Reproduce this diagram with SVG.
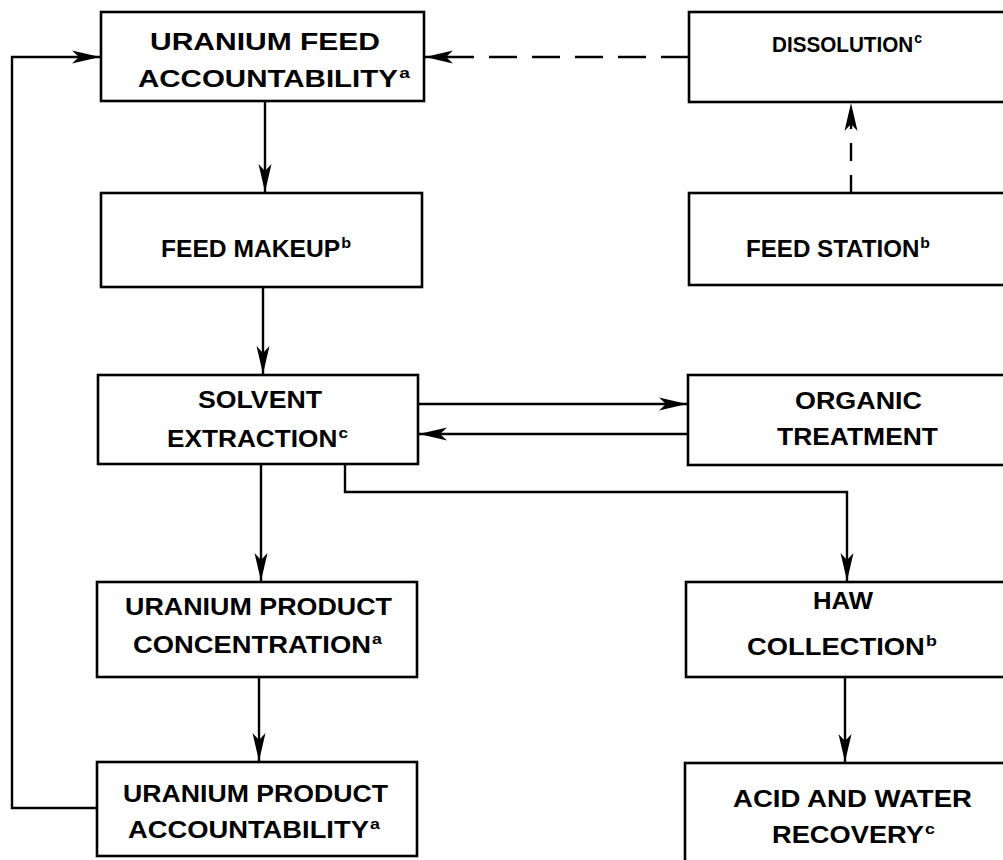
<svg xmlns="http://www.w3.org/2000/svg" width="1003" height="860" viewBox="0 0 1003 860">
<style>
.box{fill:#fff;stroke:#000;stroke-width:2.6}
.lbl{font-family:"Liberation Sans",Arial,sans-serif;font-weight:bold;font-size:23px;fill:#000}
.sup{font-size:15px}
.ln{fill:none;stroke:#000;stroke-width:2.4}
.dash{stroke-dasharray:28 15}
</style>
<defs>
<marker id="ah" markerUnits="userSpaceOnUse" markerWidth="30" markerHeight="14" refX="28" refY="7" orient="auto">
<path d="M0,0.5 L28,7 L0,13.5 L7,7 z" fill="#000"/>
</marker>
</defs>
<rect width="1003" height="860" fill="#fff"/>
<g id="connectors">
<polyline class="ln" points="97,808 12,808 12,57 100,57" marker-end="url(#ah)"/>
<line class="ln dash" x1="689" y1="57" x2="425" y2="57" marker-end="url(#ah)"/>
<line class="ln" x1="265" y1="101" x2="265" y2="192" marker-end="url(#ah)"/>
<line class="ln" x1="263" y1="287" x2="263" y2="374" marker-end="url(#ah)"/>
<line class="ln" x1="261" y1="464" x2="261" y2="581" marker-end="url(#ah)"/>
<line class="ln" x1="259" y1="677" x2="259" y2="761" marker-end="url(#ah)"/>
<line class="ln" x1="418" y1="404" x2="687" y2="404" marker-end="url(#ah)"/>
<line class="ln" x1="688" y1="434" x2="419" y2="434" marker-end="url(#ah)"/>
<polyline class="ln" points="345,464 345,492 847,492 847,581" marker-end="url(#ah)"/>
<line class="ln" x1="845" y1="677" x2="845" y2="762" marker-end="url(#ah)"/>
<line class="ln" x1="851" y1="193" x2="851" y2="103" stroke-dasharray="18 14" marker-end="url(#ah)"/>
</g>
<g id="uranium-feed-accountability">
<rect class="box" x="101" y="12" width="323" height="89"/>
<text class="lbl" x="150" y="50" textLength="230" lengthAdjust="spacingAndGlyphs">URANIUM FEED</text>
<text class="lbl" x="138" y="87" textLength="272" lengthAdjust="spacingAndGlyphs">ACCOUNTABILITY<tspan class="sup" dx="1" dy="-9">a</tspan></text>
</g>
<g id="dissolution">
<rect class="box" x="689" y="12" width="330" height="90"/>
<text class="lbl" x="772" y="52" style="font-size:22px" textLength="150" lengthAdjust="spacingAndGlyphs">DISSOLUTION<tspan class="sup" dx="1" dy="-9">c</tspan></text>
</g>
<g id="feed-makeup">
<rect class="box" x="101" y="193" width="321" height="94"/>
<text class="lbl" x="161" y="257" textLength="190" lengthAdjust="spacingAndGlyphs">FEED MAKEUP<tspan class="sup" dx="1" dy="-9">b</tspan></text>
</g>
<g id="feed-station">
<rect class="box" x="689" y="193" width="330" height="92"/>
<text class="lbl" x="746" y="257" textLength="184" lengthAdjust="spacingAndGlyphs">FEED STATION<tspan class="sup" dx="1" dy="-9">b</tspan></text>
</g>
<g id="solvent-extraction">
<rect class="box" x="98" y="375" width="320" height="89"/>
<text class="lbl" x="198" y="408" textLength="124" lengthAdjust="spacingAndGlyphs">SOLVENT</text>
<text class="lbl" x="167" y="447" textLength="181" lengthAdjust="spacingAndGlyphs">EXTRACTION<tspan class="sup" dx="1" dy="-9">c</tspan></text>
</g>
<g id="organic-treatment">
<rect class="box" x="688" y="375" width="330" height="90"/>
<text class="lbl" x="795" y="409" textLength="127" lengthAdjust="spacingAndGlyphs">ORGANIC</text>
<text class="lbl" x="777" y="445" textLength="161" lengthAdjust="spacingAndGlyphs">TREATMENT</text>
</g>
<g id="uranium-product-concentration">
<rect class="box" x="97" y="582" width="320" height="95"/>
<text class="lbl" x="125" y="615" textLength="267" lengthAdjust="spacingAndGlyphs">URANIUM PRODUCT</text>
<text class="lbl" x="133" y="653" textLength="249" lengthAdjust="spacingAndGlyphs">CONCENTRATION<tspan class="sup" dx="1" dy="-9">a</tspan></text>
</g>
<g id="haw-collection">
<rect class="box" x="686" y="582" width="330" height="95"/>
<text class="lbl" x="813" y="609" textLength="60" lengthAdjust="spacingAndGlyphs">HAW</text>
<text class="lbl" x="747" y="655" textLength="190" lengthAdjust="spacingAndGlyphs">COLLECTION<tspan class="sup" dx="1" dy="-9">b</tspan></text>
</g>
<g id="uranium-product-accountability">
<rect class="box" x="97" y="762" width="320" height="94"/>
<text class="lbl" x="123" y="802" textLength="265" lengthAdjust="spacingAndGlyphs">URANIUM PRODUCT</text>
<text class="lbl" x="128" y="838" textLength="252" lengthAdjust="spacingAndGlyphs">ACCOUNTABILITY<tspan class="sup" dx="1" dy="-9">a</tspan></text>
</g>
<g id="acid-and-water-recovery">
<rect class="box" x="685" y="763" width="330" height="110"/>
<text class="lbl" x="733" y="807" textLength="239" lengthAdjust="spacingAndGlyphs">ACID AND WATER</text>
<text class="lbl" x="772" y="843" textLength="163" lengthAdjust="spacingAndGlyphs">RECOVERY<tspan class="sup" dx="1" dy="-9">c</tspan></text>
</g>
</svg>
